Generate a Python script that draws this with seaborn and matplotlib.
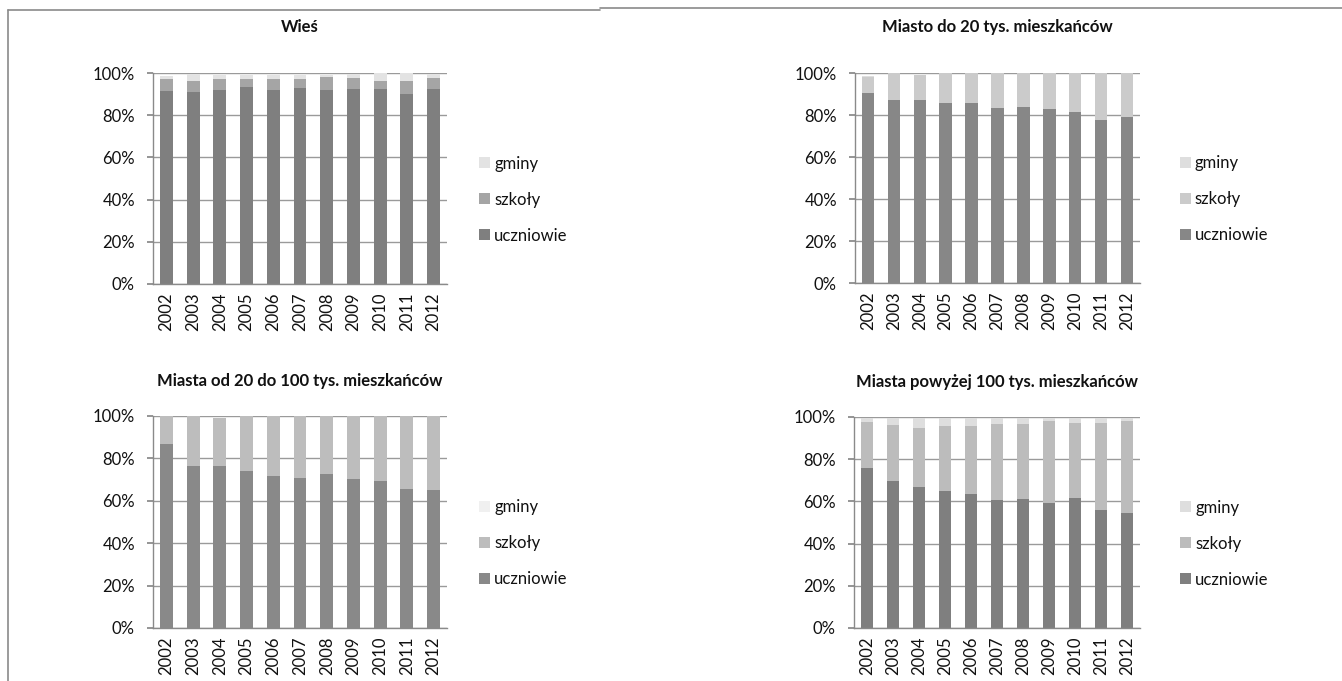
import matplotlib
matplotlib.use("Agg")
import matplotlib.pyplot as plt
import seaborn as sns
from matplotlib.patches import Patch
from matplotlib.lines import Line2D

# Dane (udział w %)
lata = ['2002', '2003', '2004', '2005', '2006', '2007', '2008', '2009', '2010', '2011', '2012']

wies_uczniowie = [91.5, 90.9, 92.0, 93.5, 92.0, 93.1, 92.0, 92.4, 92.4, 89.9, 92.4]
wies_szkoly = [5.8, 5.5, 5.0, 3.8, 5.3, 4.2, 6.1, 5.1, 4.0, 6.3, 5.1]
wies_gminy = [1.4, 3.3, 1.9, 1.6, 1.6, 1.6, 0.8, 2.0, 3.4, 3.6, 2.0]

m20_uczniowie = [90.4, 87.2, 87.2, 85.6, 85.6, 83.4, 84.0, 82.7, 81.3, 77.4, 79.0]
m20_szkoly = [7.8, 12.8, 11.7, 14.4, 14.4, 16.6, 16.0, 17.3, 18.7, 22.6, 21.0]
m20_gminy = [0.6, 0.0, 0.0, 0.0, 0.0, 0.0, 0.0, 0.0, 0.0, 0.0, 0.0]

m100_uczniowie = [86.7, 76.3, 76.6, 74.2, 71.7, 70.7, 72.8, 70.2, 69.3, 65.4, 64.9]
m100_szkoly = [13.3, 23.7, 22.6, 25.8, 28.3, 29.3, 27.2, 29.8, 30.7, 34.6, 35.1]
m100_gminy = [0.0, 0.0, 0.0, 0.0, 0.0, 0.0, 0.0, 0.0, 0.0, 0.0, 0.0]

pow100_uczniowie = [75.6, 69.6, 67.0, 65.1, 63.5, 60.7, 61.3, 59.4, 61.7, 55.9, 54.3]
pow100_szkoly = [21.9, 26.4, 27.7, 30.5, 32.1, 35.8, 35.6, 38.7, 35.5, 41.3, 43.8]
pow100_gminy = [2.2, 3.7, 5.0, 4.1, 4.1, 3.2, 2.8, 1.6, 2.5, 2.5, 1.6]

tytuly = ['Wieś', 'Miasto do 20 tys. mieszkańców',
          'Miasta od 20 do 100 tys. mieszkańców', 'Miasta powyżej 100 tys. mieszkańców']

sns.set_theme(style="white")
plt.rcParams['font.family'] = ['Lato', 'DejaVu Sans']

W, H = 1342, 681
fig = plt.figure(figsize=(W / 100, H / 100), dpi=100)


def px_axes(left, top, right, bottom):
    return fig.add_axes([left / W, 1 - bottom / H, (right - left) / W, (bottom - top) / H])


panele = [
    (px_axes(153, 73, 447, 284), (wies_uczniowie, wies_szkoly, wies_gminy),
     ('#7f7f7f', '#a5a5a5', '#e3e3e3'), 1.11, 1.22),
    (px_axes(855, 73, 1140, 283), (m20_uczniowie, m20_szkoly, m20_gminy),
     ('#878787', '#cbcbcb', '#dedede'), 1.14, 1.22),
    (px_axes(153, 416, 447, 628), (m100_uczniowie, m100_szkoly, m100_gminy),
     ('#898989', '#bdbdbd', '#f0f0f0'), 1.11, 1.165),
    (px_axes(854, 417, 1140, 628), (pow100_uczniowie, pow100_szkoly, pow100_gminy),
     ('#7f7f7f', '#bcbcbc', '#dedede'), 1.14, 1.165),
]
nazwy = ['uczniowie', 'szkoły', 'gminy']

for (ax, serie, kolory, lx, ty), tytul in zip(panele, tytuly):
    dol = [0.0] * len(lata)
    for wart, kol in zip(serie, kolory):
        sns.barplot(x=lata, y=wart, bottom=dol, color=kol, saturation=1,
                    width=0.48, ax=ax, linewidth=0)
        dol = [a + b for a, b in zip(dol, wart)]
    ax.set_xlim(-0.5, len(lata) - 0.5)
    ax.set_ylim(0, 100)
    ax.set_yticks([0, 20, 40, 60, 80, 100])
    ax.set_yticklabels([f'{v}%' for v in range(0, 101, 20)], fontsize=12, color='#111111')
    ax.tick_params(axis='x', labelrotation=90, labelsize=12, length=3, color='#888888',
                   pad=3, labelcolor='#111111')
    ax.tick_params(axis='y', length=4, color='#888888', left=True, pad=9)
    ax.yaxis.grid(True, color='#9a9a9a', linewidth=1)
    ax.set_axisbelow(True)
    for s in ['top', 'right']:
        ax.spines[s].set_visible(False)
    for s in ['left', 'bottom']:
        ax.spines[s].set_color('#8a8a8a')
        ax.spines[s].set_linewidth(1)
    ax.set_xlabel('')
    ax.set_ylabel('')
    ax.text(0.5, ty, tytul, transform=ax.transAxes, ha='center', va='center',
            fontsize=12, fontweight='bold', color='#111111')
    uchwyty = [Patch(facecolor=kolory[i], edgecolor='none', label=nazwy[i]) for i in [2, 1, 0]]
    leg = ax.legend(handles=uchwyty, loc='center left', bbox_to_anchor=(lx, 0.40),
                    frameon=False, fontsize=12, handlelength=0.65, handleheight=0.65,
                    handletextpad=0.25, labelspacing=1.2, borderpad=0, borderaxespad=0)
    for t in leg.get_texts():
        t.set_color('#111111')

# ramki obszarów wykresu
fig.add_artist(Line2D([8 / W, 600 / W], [1 - 10 / H, 1 - 10 / H], color='#8a8a8a', lw=1.2))
fig.add_artist(Line2D([600 / W, 1], [1 - 8 / H, 1 - 8 / H], color='#8a8a8a', lw=1.2))
fig.add_artist(Line2D([8 / W, 8 / W], [0, 1 - 10 / H], color='#8a8a8a', lw=1.2))

plt.savefig('out.png', dpi=100)
